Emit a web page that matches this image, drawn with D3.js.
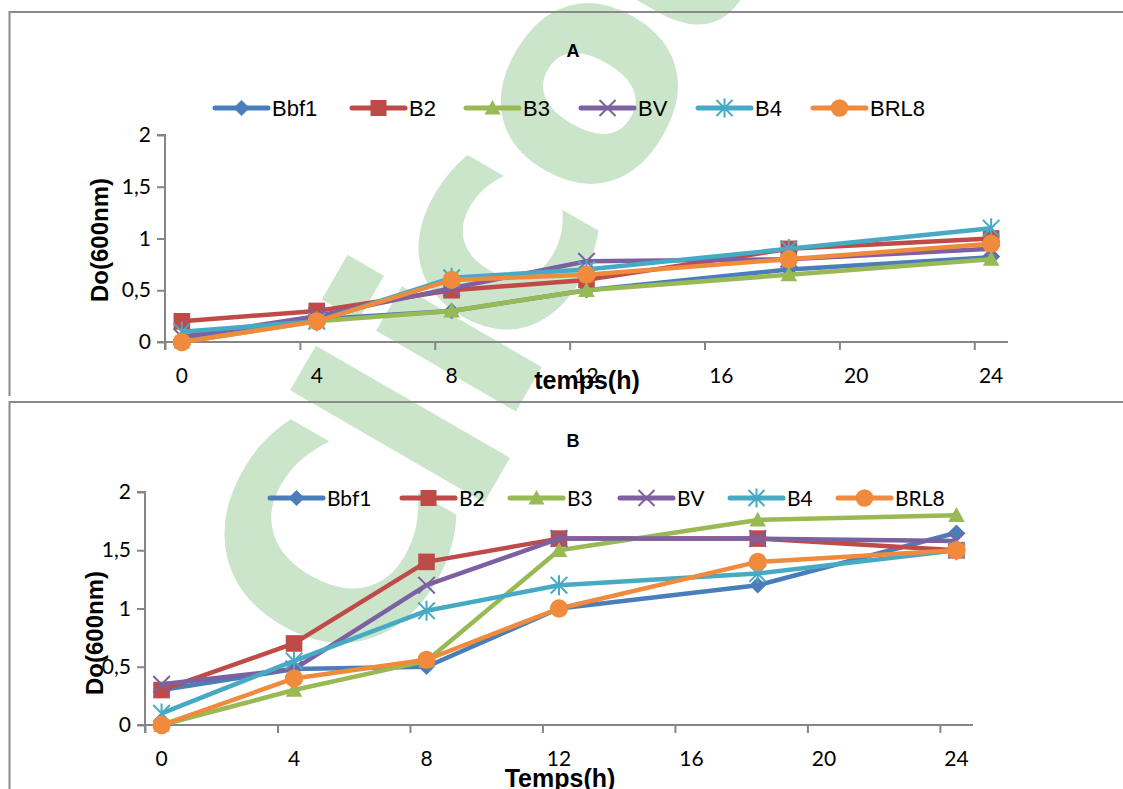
<!DOCTYPE html>
<html>
<head>
<meta charset="utf-8">
<script src="https://cdn.jsdelivr.net/npm/d3@7"></script>
<style>
  body { margin: 0; background: #fff; }
  svg { display: block; }
</style>
</head>
<body>
<div id="chart"></div>
<script>
const width = 1123;
const height = 789;

// data
const hours = [0, 4, 8, 12, 18, 24];
const xTickLabels = [0, 4, 8, 12, 16, 20, 24];
const yTicks = [0, 0.5, 1, 1.5, 2];
const seriesNames = ["Bbf1", "B2", "B3", "BV", "B4", "BRL8"];
const colors = ["#4a7ebb", "#be4b48", "#98b954", "#7d60a0", "#46aac5", "#f08a3c"];

// panel A
const bbf1A = [0.02, 0.22, 0.3, 0.5, 0.7, 0.82];
const b2A = [0.2, 0.3, 0.5, 0.6, 0.9, 1.0];
const b3A = [0, 0.2, 0.3, 0.5, 0.65, 0.8];
const bvA = [0.05, 0.25, 0.52, 0.78, 0.8, 0.9];
const b4A = [0.1, 0.2, 0.62, 0.7, 0.9, 1.1];
const brl8A = [0, 0.2, 0.6, 0.65, 0.8, 0.95];

// panel B
const bbf1B = [0.3, 0.48, 0.5, 1.0, 1.2, 1.65];
const b2B = [0.3, 0.7, 1.4, 1.6, 1.6, 1.5];
const b3B = [0, 0.3, 0.55, 1.5, 1.76, 1.8];
const bvB = [0.35, 0.48, 1.2, 1.6, 1.6, 1.58];
const b4B = [0.1, 0.55, 0.98, 1.2, 1.3, 1.5];
const brl8B = [0, 0.4, 0.56, 1.0, 1.4, 1.5];

// watermark letters (centre x, centre y, vertical shift in em)
const wmLetters = [
  { ch: "C", cx: 330, cy: 545, dy: 0.36 },
  { ch: "l", cx: 400, cy: 424, dy: 0.38 },
  { ch: "i", cx: 447, cy: 342, dy: 0.32 },
  { ch: "c", cx: 500, cy: 252, dy: 0.27 },
  { ch: "o", cx: 590, cy: 94, dy: 0.27 },
  { ch: "u", cx: 683, cy: -68, dy: 0.27 }
];

const svg = d3.select("#chart").append("svg").attr("width", width).attr("height", height);

// watermark, behind everything
svg.append("g").selectAll("text").data(wmLetters).join("text")
  .attr("transform", d => `translate(${d.cx},${d.cy}) rotate(-60)`)
  .attr("text-anchor", "middle")
  .attr("dy", d => d.dy + "em")
  .attr("font-family", "DejaVu Sans")
  .attr("font-weight", "bold")
  .attr("font-size", 295)
  .attr("fill", "#cbe5cb")
  .text(d => d.ch);

// panel frames
svg.append("path").attr("d", "M1123,12 H9.5 V396").attr("fill", "none").attr("stroke", "#8a8a8a").attr("stroke-width", 2);
svg.append("path").attr("d", "M1123,402 H9.5 V789").attr("fill", "none").attr("stroke", "#8a8a8a").attr("stroke-width", 2);

function marker(g, i, size) {
  const s = size;
  const c = colors[i];
  if (i === 0) {
    g.append("path").attr("d", `M0,${-s}L${s},0L0,${s}L${-s},0Z`).attr("fill", c);
  } else if (i === 1) {
    g.append("rect").attr("x", -s).attr("y", -s).attr("width", 2 * s).attr("height", 2 * s).attr("fill", c);
  } else if (i === 2) {
    g.append("path").attr("d", `M0,${-s}L${s},${s * 0.8}L${-s},${s * 0.8}Z`).attr("fill", c);
  } else if (i === 3) {
    g.append("path").attr("d", `M${-s},${-s}L${s},${s}M${-s},${s}L${s},${-s}`).attr("stroke", c).attr("stroke-width", 2);
  } else if (i === 4) {
    g.append("path").attr("d", `M${-s},${-s}L${s},${s}M${-s},${s}L${s},${-s}M0,${-s * 1.2}V${s * 1.2}`).attr("stroke", c).attr("stroke-width", 2);
  } else {
    g.append("circle").attr("r", s * 1.1).attr("fill", c);
  }
}

function drawPanel(p) {
  const g = svg.append("g");
  const x = d3.scaleLinear().domain([-0.5, 24.5]).range([p.x0, p.x1]);
  const y = d3.scaleLinear().domain([0, 2]).range([p.yBottom, p.yTop]);

  // title
  g.append("text").attr("x", 573).attr("y", p.titleY).attr("text-anchor", "middle")
    .attr("font-family", "Liberation Sans, Arial").attr("font-weight", "bold").attr("font-size", 18)
    .text(p.title);

  // y axis
  const yAxis = g.append("g").attr("transform", `translate(${p.x0},0)`)
    .call(d3.axisLeft(y).tickValues(yTicks).tickSize(8).tickPadding(6)
      .tickFormat(d => d3.format("")(d).replace(".", ",")));
  yAxis.select(".domain").attr("stroke", "#868686").attr("stroke-width", 2).attr("d", `M-8,${p.yTop}H0V${p.yBottom + 8}`);
  yAxis.selectAll(".tick line").attr("stroke", "#868686").attr("stroke-width", 2);
  yAxis.selectAll(".tick text").attr("font-family", "Lato, Carlito, sans-serif").attr("font-size", 21).attr("fill", "#000");

  // x axis: tick marks at category boundaries, labels at category centres
  const xAxis = g.append("g").attr("transform", `translate(0,${p.yBottom})`)
    .call(d3.axisBottom(x).tickValues(xTickLabels.map(d => d - 0.5)).tickSize(8).tickFormat(""));
  xAxis.select(".domain").attr("stroke", "#868686").attr("stroke-width", 2).attr("d", `M${p.x0 - 8},0H${p.x1}`);
  xAxis.selectAll(".tick line").attr("stroke", "#868686").attr("stroke-width", 2);
  g.append("g").selectAll("text").data(xTickLabels).join("text")
    .attr("x", d => x(d)).attr("y", p.yBottom + 41).attr("text-anchor", "middle")
    .attr("font-family", "Lato, Carlito, sans-serif").attr("font-size", 21)
    .text(d => d);

  // axis titles
  g.append("text").attr("transform", `translate(${p.yTitleX},${p.yTitleY}) rotate(-90)`)
    .attr("text-anchor", "middle").attr("font-family", "Liberation Sans, Arial").attr("font-weight", "bold")
    .attr("font-size", 24).text("Do(600nm)");
  g.append("text").attr("x", p.xTitleX).attr("y", p.xTitleY).attr("text-anchor", "middle")
    .attr("font-family", "Liberation Sans, Arial").attr("font-weight", "bold")
    .attr("font-size", 25).text(p.xTitle);

  // legend
  seriesNames.forEach((name, i) => {
    const lx = p.legendX[i];
    const lg = g.append("g");
    lg.append("line").attr("x1", lx).attr("x2", lx + 53).attr("y1", p.legendY).attr("y2", p.legendY)
      .attr("stroke", colors[i]).attr("stroke-width", 5).attr("stroke-linecap", "round");
    marker(lg.append("g").attr("transform", `translate(${lx + 26.5},${p.legendY})`), i, 8);
    lg.append("text").attr("x", lx + 57).attr("y", p.legendY + 8)
      .attr("font-family", p.legendFont).attr("font-size", p.legendSize).text(name);
  });

  // series
  const line = d3.line().x((d, j) => x(hours[j])).y(d => y(d));
  p.values.forEach((vals, i) => {
    const sg = g.append("g");
    sg.append("path").attr("d", line(vals)).attr("fill", "none")
      .attr("stroke", colors[i]).attr("stroke-width", 4.5).attr("stroke-linejoin", "round");
    vals.forEach((v, j) => {
      marker(sg.append("g").attr("transform", `translate(${x(hours[j])},${y(v)})`), i, 8.3);
    });
  });
}

drawPanel({
  title: "A", titleY: 57,
  x0: 165, x1: 1008, yTop: 135, yBottom: 342,
  yTitleX: 108, yTitleY: 240, xTitleX: 587, xTitleY: 389, xTitle: "temps(h)",
  legendX: [215, 352, 466, 581, 698, 813], legendY: 108,
  legendFont: "Liberation Sans, Arial", legendSize: 22,
  values: [bbf1A, b2A, b3A, bvA, b4A, brl8A]
});

drawPanel({
  title: "B", titleY: 447,
  x0: 145, x1: 973, yTop: 492, yBottom: 725,
  yTitleX: 103, yTitleY: 633, xTitleX: 560, xTitleY: 787, xTitle: "Temps(h)",
  legendX: [270, 402, 510, 620, 730, 838], legendY: 498,
  legendFont: "Lato, Carlito, sans-serif", legendSize: 21,
  values: [bbf1B, b2B, b3B, bvB, b4B, brl8B]
});
</script>
</body>
</html>
